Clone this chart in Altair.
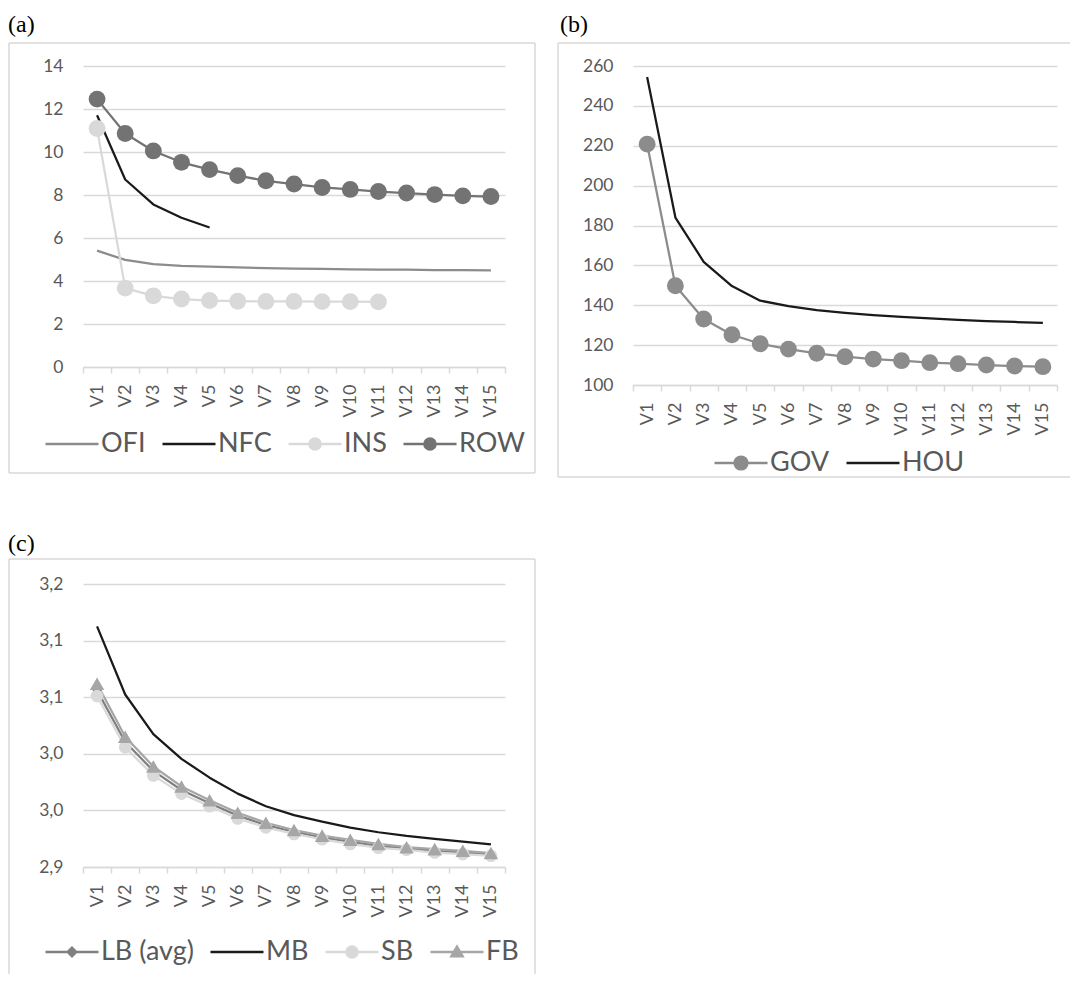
import altair as alt
import pandas as pd

CATS = ["V1", "V2", "V3", "V4", "V5", "V6", "V7", "V8", "V9", "V10",
        "V11", "V12", "V13", "V14", "V15"]

# ---------------- panel (a) ----------------
A_SERIES = ["OFI", "NFC", "INS", "ROW"]
OFI = [5.41, 4.98, 4.79, 4.70, 4.67, 4.63, 4.60, 4.57, 4.56, 4.54, 4.53, 4.53, 4.51, 4.51, 4.49]
NFC = [11.71, 8.72, 7.56, 6.94, 6.49]
INS = [11.09, 3.67, 3.31, 3.16, 3.09, 3.06, 3.05, 3.05, 3.04, 3.04, 3.03]
ROW = [12.46, 10.86, 10.05, 9.52, 9.18, 8.90, 8.66, 8.51, 8.35, 8.26, 8.16, 8.09, 8.02, 7.96, 7.93]
A_COLORS = ["#8C8C8C", "#1A1A1A", "#D9D9D9", "#737373"]
A_TICKS = [0, 2, 4, 6, 8, 10, 12, 14]

# ---------------- panel (b) ----------------
B_SERIES = ["GOV", "HOU"]
GOV = [220.8, 149.8, 133.1, 125.2, 120.7, 118.0, 115.9, 114.2, 113.0, 112.2, 111.2, 110.7, 110.0, 109.5, 109.2]
HOU = [254.5, 184.0, 161.8, 149.6, 142.3, 139.6, 137.6, 136.2, 135.1, 134.2, 133.4, 132.7, 132.1, 131.6, 131.2]
B_COLORS = ["#8C8C8C", "#1A1A1A"]
B_TICKS = [100, 120, 140, 160, 180, 200, 220, 240, 260]

# ---------------- panel (c) ----------------
C_SERIES = ["LB (avg)", "MB", "SB", "FB"]
LB = [3.056, 3.0104, 2.9849, 2.968, 2.9564, 2.9454, 2.937, 2.931, 2.9261, 2.9222, 2.9187, 2.9164, 2.9143, 2.9129, 2.9111]
MB = [3.1126, 3.0524, 3.0174, 2.9955, 2.9789, 2.9648, 2.9537, 2.9458, 2.940, 2.9348, 2.9307, 2.9274, 2.9248, 2.9225, 2.9199]
SB = [3.051, 3.0057, 2.9809, 2.9648, 2.9537, 2.9429, 2.935, 2.9292, 2.9245, 2.9204, 2.9169, 2.9152, 2.9128, 2.9114, 2.9099]
FB = [3.0618, 3.015, 2.9888, 2.9712, 2.959, 2.9479, 2.9391, 2.9327, 2.9277, 2.924, 2.9204, 2.9175, 2.9158, 2.9143, 2.9123]
C_COLORS = ["#808080", "#1A1A1A", "#D9D9D9", "#A6A6A6"]
C_TICKS = [2.9, 2.95, 3.0, 3.05, 3.1, 3.15]

FONT = "Lato"
GRID = "#D9D9D9"
LABEL = "#595959"

LINE_ONLY = "M-1,0L1,0"


def circ(r):
    return f"M-1,0L1,0M-{r},0A{r},{r},0,1,1,{r},0A{r},{r},0,1,1,-{r},0Z"


DIAMOND = "M-1,0L1,0M-0.16,0L0,-0.16L0.16,0L0,0.16Z"
TRIANGLE = "M-1,0L1,0M-0.21,0.16L0,-0.2L0.21,0.16Z"


def long_df(names, series):
    rows = []
    for k, (name, vals) in enumerate(zip(names, series)):
        for i, v in enumerate(vals):
            rows.append({"cat": CATS[i], "idx": i, "series": name, "skey": f"s{k}", "value": v})
    return pd.DataFrame(rows)


def deco_rule(x, y, x2=None, y2=None):
    enc = {"x": alt.value(x), "y": alt.value(y)}
    if x2 is not None:
        enc["x2"] = alt.value(x2)
    if y2 is not None:
        enc["y2"] = alt.value(y2)
    return alt.Chart(alt.Data(values=[{"k": 0}])).mark_rule(
        color=GRID, strokeWidth=1.5).encode(**enc)


def make_panel(names, series, colors, legend_shapes, markers, ticks, label_text,
               w, h, frame, label_xy, legend_xy, label_expr=None):
    df = long_df(names, series)
    keys = [f"s{k}" for k in range(len(names))]
    xenc = alt.X(
        "cat:N", sort=CATS, bandPosition=0.5,
        scale=alt.Scale(type="band", domain=CATS, paddingInner=0, paddingOuter=0),
        axis=alt.Axis(title=None, labelAngle=270, tickBand="extent", grid=False,
                      domainColor=GRID, domainWidth=1.5, tickColor=GRID, tickWidth=1.5,
                      tickSize=6, labelPadding=11, labelFontSize=18, labelColor=LABEL,
                      labelFont=FONT))
    ykw = dict(title=None, values=ticks, domain=False, ticks=False, tickSize=0,
               grid=True, gridColor=GRID, gridWidth=1.3, labelFontSize=17.5,
               labelColor=LABEL, labelFont=FONT, labelPadding=20)
    if label_expr:
        ykw["labelExpr"] = label_expr
    yenc = alt.Y("value:Q",
                 scale=alt.Scale(domain=[ticks[0], ticks[-1]], nice=False, zero=False),
                 axis=alt.Axis(**ykw))
    color = alt.Color("skey:N", scale=alt.Scale(domain=keys, range=colors), legend=None)

    layers = [l for l in frame]
    layers.append(
        alt.Chart(alt.Data(values=[{"k": 0}])).mark_text(
            text=label_text, font="Liberation Serif", fontSize=24, align="left",
            baseline="alphabetic", color="#000000"
        ).encode(x=alt.value(label_xy[0]), y=alt.value(label_xy[1]))
    )
    base = alt.Chart(df)
    layers.append(
        base.mark_line(strokeWidth=2.25, strokeJoin="round").encode(
            x=xenc, y=yenc, color=color, order=alt.Order("idx:Q"))
    )
    for shape, size, members in markers:
        layers.append(
            base.transform_filter(alt.FieldOneOfPredicate(field="series", oneOf=members))
            .mark_point(filled=True, shape=shape, size=size, opacity=1, strokeWidth=0)
            .encode(x=xenc, y=yenc, color=color)
        )
    leg = alt.Legend(orient="none", legendX=legend_xy[0], legendY=legend_xy[1],
                     direction="horizontal", title=None, symbolSize=2809,
                     symbolStrokeWidth=2.5, labelFontSize=27, labelColor=LABEL,
                     labelFont=FONT, labelOffset=1, columnPadding=11, padding=0)
    layers.append(
        base.transform_filter("false").mark_point(filled=True, opacity=1, strokeWidth=2.5)
        .encode(
            x=xenc, y=yenc,
            fill=alt.Fill("series:N", scale=alt.Scale(domain=names, range=colors), legend=leg),
            stroke=alt.Stroke("series:N", scale=alt.Scale(domain=names, range=colors), legend=leg),
            shape=alt.Shape("series:N", scale=alt.Scale(domain=names, range=legend_shapes), legend=leg),
        )
    )
    return alt.layer(*layers).properties(width=w, height=h)


# panel (a)
wa, ha = 422, 301
frame_a = [deco_rule(-74, -23, x2=452), deco_rule(-74, 407, x2=452),
           deco_rule(-74, -23, y2=407), deco_rule(452, -23, y2=407)]
pa = make_panel(A_SERIES, [OFI, NFC, INS, ROW], A_COLORS,
                [LINE_ONLY, LINE_ONLY, circ(0.21), circ(0.21)],
                [("circle", 285, ["INS", "ROW"])], A_TICKS, "(a)",
                wa, ha, frame_a, (-75, -34), (-39, 350))

# panel (b)
wb, hb = 424, 319
frame_b = [deco_rule(-75, -23, x2=437), deco_rule(-75, 411, x2=437),
           deco_rule(-75, -23, y2=411)]
pb = make_panel(B_SERIES, [GOV, HOU], B_COLORS,
                [circ(0.24), LINE_ONLY],
                [("circle", 285, ["GOV"])], B_TICKS, "(b)",
                wb, hb, frame_b, (-73, -34), (80, 369))

# panel (c)
wc, hc = 422, 283
frame_c = [deco_rule(-74, -25, x2=452), deco_rule(-74, -25, y2=390),
           deco_rule(452, -25, y2=390)]
pc = make_panel(C_SERIES, [LB, MB, SB, FB], C_COLORS,
                [DIAMOND, LINE_ONLY, circ(0.21), TRIANGLE],
                [("diamond", 80, ["LB (avg)"]), ("circle", 160, ["SB"]),
                 ("triangle-up", 210, ["FB"])],
                C_TICKS, "(c)", wc, hc, frame_c, (-75, -33), (-39, 340),
                label_expr="replace(format(floor(datum.value*10+0.5+1e-6)/10, '.1f'), '.', ',')")

RES = dict(color="independent", fill="independent", stroke="independent", shape="independent")
top = alt.hconcat(pa, pb, spacing=128, bounds="flush").resolve_scale(**RES)
chart = alt.vconcat(top, pc, spacing=54).resolve_scale(**RES).properties(
    padding={"left": 0, "top": 5, "right": 0, "bottom": 0}
).configure(font=FONT, background="#FFFFFF").configure_view(strokeWidth=0)

chart.save("out.html", embed_options={"renderer": "svg", "actions": False})
